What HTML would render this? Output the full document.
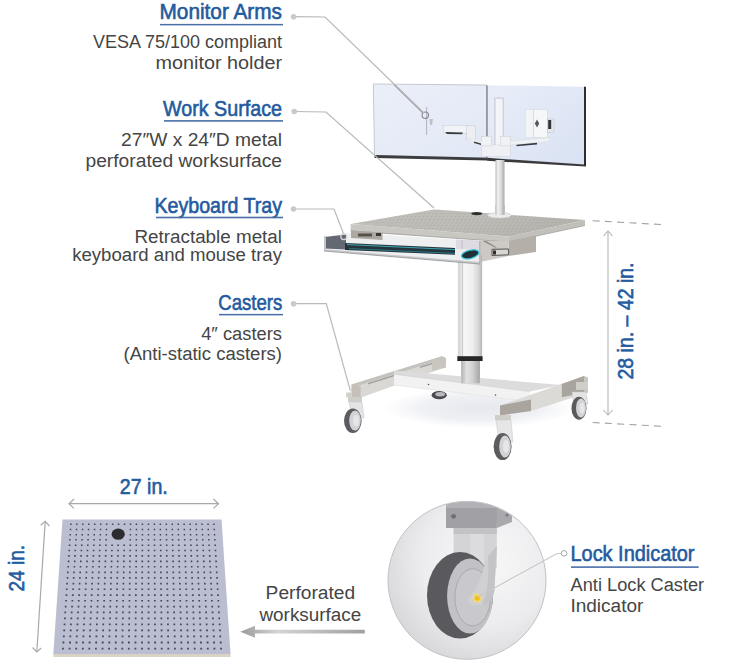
<!DOCTYPE html>
<html><head><meta charset="utf-8">
<style>
html,body{margin:0;padding:0;background:#fff;width:729px;height:669px;overflow:hidden;}
svg{display:block;}
.t{font-family:"Liberation Sans",sans-serif;font-weight:normal;fill:#235a9e;stroke:#235a9e;stroke-width:0.6px;font-size:22px;}
.b{font-family:"Liberation Sans",sans-serif;fill:#454545;font-size:18px;}
.d{font-family:"Liberation Sans",sans-serif;font-weight:normal;fill:#245c9f;stroke:#245c9f;stroke-width:0.6px;font-size:21.3px;}
.ld{stroke:#b9b9b9;stroke-width:1.2;fill:none;}
</style></head>
<body>
<svg width="729" height="669" viewBox="0 0 729 669">
<defs>
  <linearGradient id="scrL" x1="0" y1="0" x2="1" y2="1">
    <stop offset="0" stop-color="#ebeff9"/>
    <stop offset="1" stop-color="#e1e8f5"/>
  </linearGradient>
  <linearGradient id="scrR" x1="0" y1="0" x2="1" y2="1">
    <stop offset="0" stop-color="#e8edf8"/>
    <stop offset="1" stop-color="#d9e2f3"/>
  </linearGradient>
  <linearGradient id="col" x1="0" y1="0" x2="1" y2="0">
    <stop offset="0" stop-color="#b9b9b9"/>
    <stop offset="0.25" stop-color="#f2f2f2"/>
    <stop offset="0.6" stop-color="#dcdcdc"/>
    <stop offset="1" stop-color="#a9a9a9"/>
  </linearGradient>
  <linearGradient id="arrowg" x1="0" y1="0" x2="1" y2="0">
    <stop offset="0" stop-color="#9a9a9a"/>
    <stop offset="0.3" stop-color="#d4d4d4"/>
    <stop offset="1" stop-color="#a0a0a0"/>
  </linearGradient>
  <radialGradient id="circ" cx="0.62" cy="0.38" r="0.75">
    <stop offset="0" stop-color="#f8f8f9"/>
    <stop offset="0.55" stop-color="#ececee"/>
    <stop offset="1" stop-color="#d2d2d6"/>
  </radialGradient>
  <radialGradient id="shadow" cx="0.5" cy="0.5" r="0.5">
    <stop offset="0" stop-color="#e6e8ee"/>
    <stop offset="0.6" stop-color="#eff0f4"/>
    <stop offset="1" stop-color="#ffffff"/>
  </radialGradient>
  <linearGradient id="wsg" x1="0" y1="0" x2="1" y2="0.3">
    <stop offset="0" stop-color="#c0beb9"/>
    <stop offset="0.6" stop-color="#bcbab5"/>
    <stop offset="1" stop-color="#b3b1ac"/>
  </linearGradient>
  <linearGradient id="colU" x1="0" y1="0" x2="1" y2="0">
    <stop offset="0" stop-color="#d2d2d2"/>
    <stop offset="0.17" stop-color="#e6e6e6"/>
    <stop offset="0.25" stop-color="#f6f6f6"/>
    <stop offset="0.6" stop-color="#efefef"/>
    <stop offset="0.85" stop-color="#d6d6d6"/>
    <stop offset="1" stop-color="#b4b4b4"/>
  </linearGradient>
  <linearGradient id="colL" x1="0" y1="0" x2="1" y2="0">
    <stop offset="0" stop-color="#b4b4b4"/>
    <stop offset="0.3" stop-color="#e2e2e2"/>
    <stop offset="0.6" stop-color="#d2d2d2"/>
    <stop offset="1" stop-color="#a6a6a6"/>
  </linearGradient>
  <pattern id="wstex" x="0" y="0" width="4" height="3" patternUnits="userSpaceOnUse" patternTransform="skewX(-30)">
    <rect x="0" y="0" width="1.2" height="1" fill="#a3a19c"/>
    <rect x="2" y="1.5" width="1.2" height="1" fill="#cfcdc8"/>
  </pattern>
  <clipPath id="cclip"><circle cx="467" cy="580.3" r="78.5"/></clipPath>
</defs>

<!-- ============ LEFT TEXT LABELS ============ -->
<text class="t" x="282" y="18.9" text-anchor="end" textLength="122.5" lengthAdjust="spacingAndGlyphs">Monitor Arms</text>
<rect x="160" y="23.9" width="123" height="1.5" fill="#4a6ea8"/>
<text class="b" x="282" y="48.3" text-anchor="end" textLength="189" lengthAdjust="spacingAndGlyphs">VESA 75/100 compliant</text>
<text class="b" x="282" y="68.9" text-anchor="end" textLength="126.5" lengthAdjust="spacingAndGlyphs">monitor holder</text>

<text class="t" x="282" y="115.9" text-anchor="end" textLength="119.0" lengthAdjust="spacingAndGlyphs">Work Surface</text>
<rect x="164" y="120.1" width="119" height="1.6" fill="#4a6ea8"/>
<text class="b" x="282" y="146" text-anchor="end" textLength="160.9" lengthAdjust="spacingAndGlyphs">27″W x 24″D metal</text>
<text class="b" x="282" y="166.7" text-anchor="end" textLength="196.5" lengthAdjust="spacingAndGlyphs">perforated worksurface</text>

<text class="t" x="282" y="212.8" text-anchor="end" textLength="127.5" lengthAdjust="spacingAndGlyphs">Keyboard Tray</text>
<rect x="156" y="216.7" width="127" height="1.6" fill="#4a6ea8"/>
<text class="b" x="282" y="242.6" text-anchor="end" textLength="147.5" lengthAdjust="spacingAndGlyphs">Retractable metal</text>
<text class="b" x="282" y="261" text-anchor="end" textLength="209.8" lengthAdjust="spacingAndGlyphs">keyboard and mouse tray</text>

<text class="t" x="282.3" y="309.6" text-anchor="end" textLength="64.1" lengthAdjust="spacingAndGlyphs">Casters</text>
<rect x="219" y="313.9" width="64" height="1.5" fill="#4a6ea8"/>
<text class="b" x="282" y="339.8" text-anchor="end" textLength="80.8" lengthAdjust="spacingAndGlyphs">4″ casters</text>
<text class="b" x="282" y="360.4" text-anchor="end" textLength="158.5" lengthAdjust="spacingAndGlyphs">(Anti-static casters)</text>

<!-- ============ CART ============ -->
<!-- floor shadow -->
<ellipse cx="480" cy="408" rx="95" ry="20" fill="url(#shadow)"/>
<!-- monitors -->
<polygon points="373.3,84 487,85 487,158 374.5,155.5" fill="url(#scrL)" stroke="#b8bcc6" stroke-width="0.8"/>
<polygon points="487,85.3 584.5,86.8 584.5,165 487,158.3" fill="url(#scrR)"/>
<polygon points="374.5,155 487,157.8 487,160.5 374.5,158" fill="#3c3c3e"/>
<polygon points="487,157.8 584.5,164.6 585.5,166.5 487,160.8" fill="#3a3a3c"/>
<polygon points="584,86.6 586,87 586,166.4 584,165.8" fill="#2e2e30"/>
<line x1="487" y1="85.5" x2="487" y2="159" stroke="#5a5a5e" stroke-width="1"/>
<!-- pole on monitors -->
<rect x="494.2" y="97.7" width="9.8" height="48" fill="#f3f4f7"/>
<rect x="494.2" y="97.7" width="1.3" height="48" fill="#c9ccd5"/>
<rect x="502.6" y="97.7" width="1.4" height="48" fill="#cfd2db"/>
<ellipse cx="499.1" cy="98" rx="4.9" ry="1" fill="#d6d9e0"/>
<!-- hub -->
<rect x="481.7" y="145" width="28.5" height="11.5" fill="#eef0f4" stroke="#d0d3da" stroke-width="0.5"/>
<rect x="481.7" y="136.4" width="9.8" height="9.5" fill="#f1f2f5" stroke="#c8cbd3" stroke-width="0.5"/>
<rect x="500.4" y="136.4" width="9.8" height="9.5" fill="#f1f2f5" stroke="#c8cbd3" stroke-width="0.5"/>
<!-- left arm -->
<rect x="443.4" y="125.3" width="24" height="8" fill="#f2f3f6" stroke="#c9ccd4" stroke-width="0.5"/>
<polygon points="445,132 463,132.5 462,134.3 447,134" fill="#3a3b40"/>
<rect x="466.6" y="125.3" width="8.9" height="14.3" fill="#eceef2" stroke="#c5c8d0" stroke-width="0.5"/>
<polygon points="468,137 482,141 482,145.5 468,141" fill="#e9ebf0"/>
<polygon points="474,141.5 481,143.5 481,145 474,143" fill="#3a3b40"/>
<!-- left vesa -->
<line x1="426.6" y1="107" x2="426.6" y2="135" stroke="#9ea1a9" stroke-width="0.8"/>
<polygon points="429.5,119 433,119 432,125 430,125" fill="#c0c2c8"/>
<!-- right arm -->
<polygon points="510,141 549.5,137.5 549.5,141.5 510,145" fill="#eff1f4" stroke="#cfd2d9" stroke-width="0.4"/>
<polygon points="516.5,144.8 537,142.8 537,144.4 516.5,146.3" fill="#3a3b40"/>
<rect x="525.3" y="109.3" width="8.2" height="28.5" fill="#f3f4f7" stroke="#d3d6dd" stroke-width="0.4"/>
<rect x="533.4" y="109.3" width="14.3" height="28.5" fill="#f6f7f9" stroke="#c9ccd3" stroke-width="0.5"/>
<polygon points="537,119.5 539.2,123.5 537,127.5 534.8,123.5" fill="#55575e"/>
<rect x="547.7" y="119" width="6.3" height="13.4" fill="#e4e6ea" stroke="#b7bac1" stroke-width="0.4"/>
<rect x="548.2" y="120" width="3" height="9" fill="#33343a"/>
<!-- pole below monitors -->
<rect x="495.5" y="160" width="9" height="52" fill="url(#col)"/>


<!-- worksurface -->
<polygon points="350.6,224 434,209.6 585,220 509,236.5" fill="url(#wsg)"/>
<polygon points="350.6,224 434,209.6 585,220 509,236.5" fill="url(#wstex)" opacity="0.5"/>
<polygon points="350.6,224 509,236.5 509,242 350.6,231" fill="#c9c7c2"/>
<polygon points="509,236.5 585,220 585,225.5 509,242" fill="#c2c0bb"/>
<line x1="350.6" y1="231" x2="509" y2="242" stroke="#9c9a95" stroke-width="0.8"/>
<line x1="509" y1="242" x2="585" y2="225.5" stroke="#a5a39e" stroke-width="0.8"/>
<ellipse cx="476.8" cy="213.6" rx="5.5" ry="1.7" fill="#2e2e2e"/>
<ellipse cx="499.5" cy="215.3" rx="12" ry="2.8" fill="#ececec" stroke="#c8c8c8" stroke-width="0.6"/>
<rect x="495.5" y="205" width="9" height="10" fill="url(#col)"/>
<!-- slide box right -->
<polygon points="508.6,241 536,235.6 536,252 508.6,256" fill="#b4b0a9"/>
<polygon points="480,241 508.6,241 508.6,256 480,262" fill="#cdcac5"/>
<polygon points="482.5,241 486,241 497,247.5 494.9,247.5" fill="#8d8a85"/>
<polygon points="492,249.3 508.6,249 508.6,254.8 492,255.5" fill="#d8d6d2" stroke="#55524e" stroke-width="1"/>
<rect x="493" y="250.5" width="3" height="4" fill="#2e2c2a"/>
<!-- column -->
<rect x="457.9" y="255" width="24.2" height="101.5" fill="url(#colU)"/>
<rect x="462.2" y="255" width="0.8" height="101.5" fill="#c4c4c4"/>
<rect x="457.3" y="356.2" width="25.3" height="4.8" fill="#262626"/>
<rect x="461.3" y="361" width="18.5" height="22.3" fill="url(#colL)"/>
<!-- keyboard tray -->

<polygon points="324,236.7 350,233 480,241 480,262 324,249" fill="#eeeff1"/>
<polygon points="456,239.5 480,240.5 480,250 456,249" fill="#dedbe3"/>
<line x1="462" y1="240" x2="462" y2="249" stroke="#b9b6bf" stroke-width="0.8"/>
<polygon points="325,237 346,234.5 346,249.5 325,248.5" fill="#646873"/>
<polygon points="345,243 455,248 455,254.8 345,250" fill="#26343b"/>
<polyline points="347,244.6 455,249.6" stroke="#3fa7b4" stroke-width="1" fill="none"/>
<polyline points="349,248.6 455,253.4" stroke="#2f8896" stroke-width="0.8" fill="none"/>
<polygon points="324,236 326,236 326,249 324,249" fill="#c5c5c8"/>
<polygon points="324,249 480,262 480,264 324,251" fill="#c9cacc"/>
<polyline points="324,251 480,264" stroke="#8f9094" stroke-width="0.8" fill="none"/>
<line x1="479.8" y1="241" x2="479.8" y2="263" stroke="#a9a8a6" stroke-width="1"/>
<!-- mouse -->
<ellipse cx="470.2" cy="254.3" rx="8.8" ry="4.1" fill="#1f3038" stroke="#39bfd0" stroke-width="1.3" transform="rotate(-14 470.2 254.3)"/>
<!-- left slide -->
<polygon points="351,230.5 382.5,232.5 382.5,240 351,238" fill="#aca8a0"/>
<rect x="358" y="233.5" width="14" height="3" fill="#55524e"/>
<rect x="376" y="233" width="5" height="3" fill="#3a3836"/>

<!-- base -->
<!-- back-left caster -->
<ellipse cx="439.2" cy="395.2" rx="7.6" ry="4.1" fill="#4c4c50"/>
<ellipse cx="440.2" cy="394.2" rx="4.8" ry="2.2" fill="#b9b9bd"/>
<!-- left rail -->
<polygon points="351.5,384.6 442,356.3 446,358 446,367 360.6,397.7 351.5,397.7" fill="#dad8d4"/>
<polygon points="351.5,384.6 442,356.3 446,358 355.5,386.5" fill="#c4c2be"/>
<polygon points="368,383 395,374.5 395,376 368,384.5" fill="#a3a19d"/>
<polygon points="420,366.5 440,360.5 440,362 420,368" fill="#a3a19d"/>
<polygon points="351.5,384.6 360.6,386 360.6,397.7 351.5,397.7" fill="#c4c0b9"/>
<rect x="346.2" y="392.5" width="5" height="5" fill="#d2d0cc"/>
<polygon points="432,359.5 446,358 446,367.5 432,371" fill="#c9c6c0"/>
<!-- cross beam -->
<polygon points="394,370.5 561,385 530,391.5 394,374.2" fill="#dcdcdc"/>
<polygon points="394,374.2 530,391.5 530,401.5 394,385" fill="#f2f2f2"/>
<line x1="394" y1="374.2" x2="530" y2="391.5" stroke="#d0d0d0" stroke-width="0.7"/>
<line x1="394" y1="385" x2="530" y2="401.5" stroke="#e2e2e2" stroke-width="0.7"/>
<circle cx="428.5" cy="384.5" r="0.8" fill="#555"/>
<circle cx="495.5" cy="395" r="0.8" fill="#555"/>
<!-- right rail -->
<polygon points="500,405.5 584,376 588,378 588,392.8 531,411 500,415.5" fill="#dcdad6"/>
<polygon points="500,405.5 531,399.5 531,411 500,415.5" fill="#a9a59e"/>
<polygon points="561.8,384 584,376 584,392.8 561.8,397.2" fill="#a9a59e"/>
<polygon points="584,376 588,377.5 588,392.8 584,392.8" fill="#c8c6c1"/>
<!-- column lower (over beam) -->
<rect x="461.3" y="361" width="18.5" height="22.3" fill="url(#colL)"/>
<!-- casters -->
<g>
  <!-- left front -->
  <rect x="348" y="397" width="14" height="5" fill="#d0cec9"/>
  <polygon points="349,402 362,402 364,418 352,418" fill="#e4e4e4" stroke="#c4c4c4" stroke-width="0.5"/>
  <ellipse cx="352.8" cy="420.8" rx="8.8" ry="12.2" fill="#5c5c60"/>
  <ellipse cx="355" cy="420.6" rx="5.8" ry="10" fill="#d3d3d6"/>
  <ellipse cx="356" cy="420.6" rx="3" ry="6" fill="#e6e6e8"/>
  <!-- right front -->
  <rect x="495" y="415" width="16" height="5" fill="#d0cec9"/>
  <polygon points="496,420 511,420 513,442 499,442" fill="#e6e6e6" stroke="#c4c4c4" stroke-width="0.5"/>
  <ellipse cx="502.6" cy="446.6" rx="9" ry="13.5" fill="#5c5c60"/>
  <ellipse cx="505" cy="446.5" rx="5.8" ry="11" fill="#d3d3d6"/>
  <ellipse cx="506" cy="446.5" rx="3" ry="6.5" fill="#e6e6e8"/>
  <!-- right back -->
  <rect x="576" y="382" width="12" height="8" fill="#d0cec9"/>
  <polygon points="572,392 586,392 588,404 574,404" fill="#e4e4e4" stroke="#c4c4c4" stroke-width="0.5"/>
  <ellipse cx="579" cy="408.2" rx="7.5" ry="11.5" fill="#5c5c60"/>
  <ellipse cx="581" cy="408" rx="5" ry="9.5" fill="#d3d3d6"/>
  <ellipse cx="582" cy="408" rx="2.5" ry="5.5" fill="#e6e6e8"/>
</g>

<!-- height dimension -->
<g stroke="#b4b4b4" stroke-width="1.1" fill="none">
  <line x1="592.6" y1="220.7" x2="662" y2="224.6" stroke-dasharray="7,5.3" stroke="#a3a3a3"/>
  <line x1="592.6" y1="422.5" x2="662" y2="426.3" stroke-dasharray="7,5.3" stroke="#a3a3a3"/>
  <line x1="608" y1="231" x2="608" y2="415"/>
  <polyline points="603.5,236 608,231 612.5,236"/>
  <polyline points="603.5,410 608,415 612.5,410"/>
</g>
<text class="d" transform="translate(633,379.5) rotate(-90)" x="0" y="0" textLength="117" lengthAdjust="spacingAndGlyphs">28 in. – 42 in.</text>

<!-- ============ PERFORATED BOARD ============ -->
<g stroke="#a9a9a9" stroke-width="1.2" fill="none">
  <line x1="69" y1="503.7" x2="218.5" y2="503.7"/>
  <polyline points="74,499 69,503.7 74,508.4"/>
  <polyline points="213.5,499 218.5,503.7 213.5,508.4"/>
  <line x1="45.2" y1="521.4" x2="36.8" y2="652"/>
  <polyline points="40.6,525.3 45.2,521.4 49.4,526"/>
  <polyline points="32.6,647.5 36.8,652 41.2,648"/>
</g>
<text class="d" x="119.8" y="494.1" textLength="48" lengthAdjust="spacingAndGlyphs">27 in.</text>
<text class="d" transform="translate(24.2,591.5) rotate(-90)" x="0" y="0" textLength="46.5" lengthAdjust="spacingAndGlyphs">24 in.</text>
<polygon points="62.5,519.5 221.5,519.5 230.5,654 53.3,654" fill="#babed0"/>
<polygon points="53.3,654 230.5,654 230.5,657 53.3,657" fill="#d9d3c4"/>
<!--DOTS--><path d="M70.2 523.5h1.5v1.5h-1.5zM76.1 523.5h1.5v1.5h-1.5zM82.1 523.5h1.5v1.5h-1.5zM88.0 523.5h1.5v1.5h-1.5zM94.0 523.5h1.5v1.5h-1.5zM100.0 523.5h1.5v1.5h-1.5zM105.9 523.5h1.5v1.5h-1.5zM111.9 523.5h1.5v1.5h-1.5zM117.8 523.5h1.5v1.5h-1.5zM123.8 523.5h1.5v1.5h-1.5zM129.8 523.5h1.5v1.5h-1.5zM135.7 523.5h1.5v1.5h-1.5zM141.7 523.5h1.5v1.5h-1.5zM147.7 523.5h1.5v1.5h-1.5zM153.6 523.5h1.5v1.5h-1.5zM159.6 523.5h1.5v1.5h-1.5zM165.6 523.5h1.5v1.5h-1.5zM171.5 523.5h1.5v1.5h-1.5zM177.5 523.5h1.5v1.5h-1.5zM183.4 523.5h1.5v1.5h-1.5zM189.4 523.5h1.5v1.5h-1.5zM195.4 523.5h1.5v1.5h-1.5zM201.3 523.5h1.5v1.5h-1.5zM207.3 523.5h1.5v1.5h-1.5zM213.2 523.5h1.5v1.5h-1.5zM69.8 528.7h1.5v1.5h-1.5zM75.8 528.7h1.5v1.5h-1.5zM81.8 528.7h1.5v1.5h-1.5zM87.8 528.7h1.5v1.5h-1.5zM93.8 528.7h1.5v1.5h-1.5zM99.8 528.7h1.5v1.5h-1.5zM105.7 528.7h1.5v1.5h-1.5zM129.7 528.7h1.5v1.5h-1.5zM135.7 528.7h1.5v1.5h-1.5zM141.7 528.7h1.5v1.5h-1.5zM147.7 528.7h1.5v1.5h-1.5zM153.7 528.7h1.5v1.5h-1.5zM159.6 528.7h1.5v1.5h-1.5zM165.6 528.7h1.5v1.5h-1.5zM171.6 528.7h1.5v1.5h-1.5zM177.6 528.7h1.5v1.5h-1.5zM183.6 528.7h1.5v1.5h-1.5zM189.6 528.7h1.5v1.5h-1.5zM195.6 528.7h1.5v1.5h-1.5zM201.6 528.7h1.5v1.5h-1.5zM207.5 528.7h1.5v1.5h-1.5zM213.5 528.7h1.5v1.5h-1.5zM69.5 533.9h1.5v1.5h-1.5zM75.5 533.9h1.5v1.5h-1.5zM81.5 533.9h1.5v1.5h-1.5zM87.5 533.9h1.5v1.5h-1.5zM93.5 533.9h1.5v1.5h-1.5zM99.6 533.9h1.5v1.5h-1.5zM105.6 533.9h1.5v1.5h-1.5zM129.6 533.9h1.5v1.5h-1.5zM135.6 533.9h1.5v1.5h-1.5zM141.7 533.9h1.5v1.5h-1.5zM147.7 533.9h1.5v1.5h-1.5zM153.7 533.9h1.5v1.5h-1.5zM159.7 533.9h1.5v1.5h-1.5zM165.7 533.9h1.5v1.5h-1.5zM171.7 533.9h1.5v1.5h-1.5zM177.7 533.9h1.5v1.5h-1.5zM183.7 533.9h1.5v1.5h-1.5zM189.8 533.9h1.5v1.5h-1.5zM195.8 533.9h1.5v1.5h-1.5zM201.8 533.9h1.5v1.5h-1.5zM207.8 533.9h1.5v1.5h-1.5zM213.8 533.9h1.5v1.5h-1.5zM69.1 539.1h1.5v1.5h-1.5zM75.2 539.1h1.5v1.5h-1.5zM81.2 539.1h1.5v1.5h-1.5zM87.3 539.1h1.5v1.5h-1.5zM93.3 539.1h1.5v1.5h-1.5zM99.3 539.1h1.5v1.5h-1.5zM105.4 539.1h1.5v1.5h-1.5zM129.5 539.1h1.5v1.5h-1.5zM135.6 539.1h1.5v1.5h-1.5zM141.6 539.1h1.5v1.5h-1.5zM147.7 539.1h1.5v1.5h-1.5zM153.7 539.1h1.5v1.5h-1.5zM159.7 539.1h1.5v1.5h-1.5zM165.8 539.1h1.5v1.5h-1.5zM171.8 539.1h1.5v1.5h-1.5zM177.9 539.1h1.5v1.5h-1.5zM183.9 539.1h1.5v1.5h-1.5zM189.9 539.1h1.5v1.5h-1.5zM196.0 539.1h1.5v1.5h-1.5zM202.0 539.1h1.5v1.5h-1.5zM208.1 539.1h1.5v1.5h-1.5zM214.1 539.1h1.5v1.5h-1.5zM68.8 544.4h1.6v1.6h-1.6zM74.9 544.4h1.6v1.6h-1.6zM80.9 544.4h1.6v1.6h-1.6zM87.0 544.4h1.6v1.6h-1.6zM93.1 544.4h1.6v1.6h-1.6zM99.1 544.4h1.6v1.6h-1.6zM105.2 544.4h1.6v1.6h-1.6zM111.3 544.4h1.6v1.6h-1.6zM117.3 544.4h1.6v1.6h-1.6zM123.4 544.4h1.6v1.6h-1.6zM129.5 544.4h1.6v1.6h-1.6zM135.5 544.4h1.6v1.6h-1.6zM141.6 544.4h1.6v1.6h-1.6zM147.7 544.4h1.6v1.6h-1.6zM153.7 544.4h1.6v1.6h-1.6zM159.8 544.4h1.6v1.6h-1.6zM165.9 544.4h1.6v1.6h-1.6zM171.9 544.4h1.6v1.6h-1.6zM178.0 544.4h1.6v1.6h-1.6zM184.1 544.4h1.6v1.6h-1.6zM190.1 544.4h1.6v1.6h-1.6zM196.2 544.4h1.6v1.6h-1.6zM202.3 544.4h1.6v1.6h-1.6zM208.3 544.4h1.6v1.6h-1.6zM214.4 544.4h1.6v1.6h-1.6zM68.5 549.7h1.6v1.6h-1.6zM74.5 549.7h1.6v1.6h-1.6zM80.6 549.7h1.6v1.6h-1.6zM86.7 549.7h1.6v1.6h-1.6zM92.8 549.7h1.6v1.6h-1.6zM98.9 549.7h1.6v1.6h-1.6zM105.0 549.7h1.6v1.6h-1.6zM111.1 549.7h1.6v1.6h-1.6zM117.2 549.7h1.6v1.6h-1.6zM123.3 549.7h1.6v1.6h-1.6zM129.4 549.7h1.6v1.6h-1.6zM135.5 549.7h1.6v1.6h-1.6zM141.6 549.7h1.6v1.6h-1.6zM147.7 549.7h1.6v1.6h-1.6zM153.8 549.7h1.6v1.6h-1.6zM159.9 549.7h1.6v1.6h-1.6zM165.9 549.7h1.6v1.6h-1.6zM172.0 549.7h1.6v1.6h-1.6zM178.1 549.7h1.6v1.6h-1.6zM184.2 549.7h1.6v1.6h-1.6zM190.3 549.7h1.6v1.6h-1.6zM196.4 549.7h1.6v1.6h-1.6zM202.5 549.7h1.6v1.6h-1.6zM208.6 549.7h1.6v1.6h-1.6zM214.7 549.7h1.6v1.6h-1.6zM68.1 555.1h1.6v1.6h-1.6zM74.2 555.1h1.6v1.6h-1.6zM80.3 555.1h1.6v1.6h-1.6zM86.5 555.1h1.6v1.6h-1.6zM92.6 555.1h1.6v1.6h-1.6zM98.7 555.1h1.6v1.6h-1.6zM104.8 555.1h1.6v1.6h-1.6zM110.9 555.1h1.6v1.6h-1.6zM117.1 555.1h1.6v1.6h-1.6zM123.2 555.1h1.6v1.6h-1.6zM129.3 555.1h1.6v1.6h-1.6zM135.4 555.1h1.6v1.6h-1.6zM141.5 555.1h1.6v1.6h-1.6zM147.7 555.1h1.6v1.6h-1.6zM153.8 555.1h1.6v1.6h-1.6zM159.9 555.1h1.6v1.6h-1.6zM166.0 555.1h1.6v1.6h-1.6zM172.1 555.1h1.6v1.6h-1.6zM178.3 555.1h1.6v1.6h-1.6zM184.4 555.1h1.6v1.6h-1.6zM190.5 555.1h1.6v1.6h-1.6zM196.6 555.1h1.6v1.6h-1.6zM202.8 555.1h1.6v1.6h-1.6zM208.9 555.1h1.6v1.6h-1.6zM215.0 555.1h1.6v1.6h-1.6zM67.8 560.6h1.6v1.6h-1.6zM73.9 560.6h1.6v1.6h-1.6zM80.0 560.6h1.6v1.6h-1.6zM86.2 560.6h1.6v1.6h-1.6zM92.3 560.6h1.6v1.6h-1.6zM98.5 560.6h1.6v1.6h-1.6zM104.6 560.6h1.6v1.6h-1.6zM110.8 560.6h1.6v1.6h-1.6zM116.9 560.6h1.6v1.6h-1.6zM123.1 560.6h1.6v1.6h-1.6zM129.2 560.6h1.6v1.6h-1.6zM135.4 560.6h1.6v1.6h-1.6zM141.5 560.6h1.6v1.6h-1.6zM147.7 560.6h1.6v1.6h-1.6zM153.8 560.6h1.6v1.6h-1.6zM160.0 560.6h1.6v1.6h-1.6zM166.1 560.6h1.6v1.6h-1.6zM172.3 560.6h1.6v1.6h-1.6zM178.4 560.6h1.6v1.6h-1.6zM184.6 560.6h1.6v1.6h-1.6zM190.7 560.6h1.6v1.6h-1.6zM196.8 560.6h1.6v1.6h-1.6zM203.0 560.6h1.6v1.6h-1.6zM209.1 560.6h1.6v1.6h-1.6zM215.3 560.6h1.6v1.6h-1.6zM67.4 566.0h1.6v1.6h-1.6zM73.6 566.0h1.6v1.6h-1.6zM79.7 566.0h1.6v1.6h-1.6zM85.9 566.0h1.6v1.6h-1.6zM92.1 566.0h1.6v1.6h-1.6zM98.3 566.0h1.6v1.6h-1.6zM104.4 566.0h1.6v1.6h-1.6zM110.6 566.0h1.6v1.6h-1.6zM116.8 566.0h1.6v1.6h-1.6zM123.0 566.0h1.6v1.6h-1.6zM129.1 566.0h1.6v1.6h-1.6zM135.3 566.0h1.6v1.6h-1.6zM141.5 566.0h1.6v1.6h-1.6zM147.7 566.0h1.6v1.6h-1.6zM153.8 566.0h1.6v1.6h-1.6zM160.0 566.0h1.6v1.6h-1.6zM166.2 566.0h1.6v1.6h-1.6zM172.4 566.0h1.6v1.6h-1.6zM178.5 566.0h1.6v1.6h-1.6zM184.7 566.0h1.6v1.6h-1.6zM190.9 566.0h1.6v1.6h-1.6zM197.1 566.0h1.6v1.6h-1.6zM203.2 566.0h1.6v1.6h-1.6zM209.4 566.0h1.6v1.6h-1.6zM215.6 566.0h1.6v1.6h-1.6zM67.0 571.6h1.6v1.6h-1.6zM73.2 571.6h1.6v1.6h-1.6zM79.4 571.6h1.6v1.6h-1.6zM85.6 571.6h1.6v1.6h-1.6zM91.8 571.6h1.6v1.6h-1.6zM98.1 571.6h1.6v1.6h-1.6zM104.3 571.6h1.6v1.6h-1.6zM110.5 571.6h1.6v1.6h-1.6zM116.7 571.6h1.6v1.6h-1.6zM122.9 571.6h1.6v1.6h-1.6zM129.1 571.6h1.6v1.6h-1.6zM135.3 571.6h1.6v1.6h-1.6zM141.5 571.6h1.6v1.6h-1.6zM147.7 571.6h1.6v1.6h-1.6zM153.9 571.6h1.6v1.6h-1.6zM160.1 571.6h1.6v1.6h-1.6zM166.3 571.6h1.6v1.6h-1.6zM172.5 571.6h1.6v1.6h-1.6zM178.7 571.6h1.6v1.6h-1.6zM184.9 571.6h1.6v1.6h-1.6zM191.1 571.6h1.6v1.6h-1.6zM197.3 571.6h1.6v1.6h-1.6zM203.5 571.6h1.6v1.6h-1.6zM209.7 571.6h1.6v1.6h-1.6zM215.9 571.6h1.6v1.6h-1.6zM66.7 577.1h1.6v1.6h-1.6zM72.9 577.1h1.6v1.6h-1.6zM79.1 577.1h1.6v1.6h-1.6zM85.4 577.1h1.6v1.6h-1.6zM91.6 577.1h1.6v1.6h-1.6zM97.8 577.1h1.6v1.6h-1.6zM104.1 577.1h1.6v1.6h-1.6zM110.3 577.1h1.6v1.6h-1.6zM116.5 577.1h1.6v1.6h-1.6zM122.8 577.1h1.6v1.6h-1.6zM129.0 577.1h1.6v1.6h-1.6zM135.2 577.1h1.6v1.6h-1.6zM141.4 577.1h1.6v1.6h-1.6zM147.7 577.1h1.6v1.6h-1.6zM153.9 577.1h1.6v1.6h-1.6zM160.1 577.1h1.6v1.6h-1.6zM166.4 577.1h1.6v1.6h-1.6zM172.6 577.1h1.6v1.6h-1.6zM178.8 577.1h1.6v1.6h-1.6zM185.1 577.1h1.6v1.6h-1.6zM191.3 577.1h1.6v1.6h-1.6zM197.5 577.1h1.6v1.6h-1.6zM203.7 577.1h1.6v1.6h-1.6zM210.0 577.1h1.6v1.6h-1.6zM216.2 577.1h1.6v1.6h-1.6zM66.3 582.8h1.6v1.6h-1.6zM72.6 582.8h1.6v1.6h-1.6zM78.8 582.8h1.6v1.6h-1.6zM85.1 582.8h1.6v1.6h-1.6zM91.3 582.8h1.6v1.6h-1.6zM97.6 582.8h1.6v1.6h-1.6zM103.9 582.8h1.6v1.6h-1.6zM110.1 582.8h1.6v1.6h-1.6zM116.4 582.8h1.6v1.6h-1.6zM122.6 582.8h1.6v1.6h-1.6zM128.9 582.8h1.6v1.6h-1.6zM135.2 582.8h1.6v1.6h-1.6zM141.4 582.8h1.6v1.6h-1.6zM147.7 582.8h1.6v1.6h-1.6zM153.9 582.8h1.6v1.6h-1.6zM160.2 582.8h1.6v1.6h-1.6zM166.4 582.8h1.6v1.6h-1.6zM172.7 582.8h1.6v1.6h-1.6zM179.0 582.8h1.6v1.6h-1.6zM185.2 582.8h1.6v1.6h-1.6zM191.5 582.8h1.6v1.6h-1.6zM197.7 582.8h1.6v1.6h-1.6zM204.0 582.8h1.6v1.6h-1.6zM210.3 582.8h1.6v1.6h-1.6zM216.5 582.8h1.6v1.6h-1.6zM65.9 588.4h1.7v1.7h-1.7zM72.2 588.4h1.7v1.7h-1.7zM78.5 588.4h1.7v1.7h-1.7zM84.8 588.4h1.7v1.7h-1.7zM91.1 588.4h1.7v1.7h-1.7zM97.4 588.4h1.7v1.7h-1.7zM103.7 588.4h1.7v1.7h-1.7zM110.0 588.4h1.7v1.7h-1.7zM116.2 588.4h1.7v1.7h-1.7zM122.5 588.4h1.7v1.7h-1.7zM128.8 588.4h1.7v1.7h-1.7zM135.1 588.4h1.7v1.7h-1.7zM141.4 588.4h1.7v1.7h-1.7zM147.7 588.4h1.7v1.7h-1.7zM154.0 588.4h1.7v1.7h-1.7zM160.2 588.4h1.7v1.7h-1.7zM166.5 588.4h1.7v1.7h-1.7zM172.8 588.4h1.7v1.7h-1.7zM179.1 588.4h1.7v1.7h-1.7zM185.4 588.4h1.7v1.7h-1.7zM191.7 588.4h1.7v1.7h-1.7zM198.0 588.4h1.7v1.7h-1.7zM204.3 588.4h1.7v1.7h-1.7zM210.5 588.4h1.7v1.7h-1.7zM216.8 588.4h1.7v1.7h-1.7zM65.6 594.2h1.7v1.7h-1.7zM71.9 594.2h1.7v1.7h-1.7zM78.2 594.2h1.7v1.7h-1.7zM84.5 594.2h1.7v1.7h-1.7zM90.8 594.2h1.7v1.7h-1.7zM97.2 594.2h1.7v1.7h-1.7zM103.5 594.2h1.7v1.7h-1.7zM109.8 594.2h1.7v1.7h-1.7zM116.1 594.2h1.7v1.7h-1.7zM122.4 594.2h1.7v1.7h-1.7zM128.7 594.2h1.7v1.7h-1.7zM135.0 594.2h1.7v1.7h-1.7zM141.4 594.2h1.7v1.7h-1.7zM147.7 594.2h1.7v1.7h-1.7zM154.0 594.2h1.7v1.7h-1.7zM160.3 594.2h1.7v1.7h-1.7zM166.6 594.2h1.7v1.7h-1.7zM172.9 594.2h1.7v1.7h-1.7zM179.3 594.2h1.7v1.7h-1.7zM185.6 594.2h1.7v1.7h-1.7zM191.9 594.2h1.7v1.7h-1.7zM198.2 594.2h1.7v1.7h-1.7zM204.5 594.2h1.7v1.7h-1.7zM210.8 594.2h1.7v1.7h-1.7zM217.1 594.2h1.7v1.7h-1.7zM65.2 599.9h1.7v1.7h-1.7zM71.5 599.9h1.7v1.7h-1.7zM77.9 599.9h1.7v1.7h-1.7zM84.2 599.9h1.7v1.7h-1.7zM90.6 599.9h1.7v1.7h-1.7zM96.9 599.9h1.7v1.7h-1.7zM103.3 599.9h1.7v1.7h-1.7zM109.6 599.9h1.7v1.7h-1.7zM116.0 599.9h1.7v1.7h-1.7zM122.3 599.9h1.7v1.7h-1.7zM128.6 599.9h1.7v1.7h-1.7zM135.0 599.9h1.7v1.7h-1.7zM141.3 599.9h1.7v1.7h-1.7zM147.7 599.9h1.7v1.7h-1.7zM154.0 599.9h1.7v1.7h-1.7zM160.4 599.9h1.7v1.7h-1.7zM166.7 599.9h1.7v1.7h-1.7zM173.1 599.9h1.7v1.7h-1.7zM179.4 599.9h1.7v1.7h-1.7zM185.7 599.9h1.7v1.7h-1.7zM192.1 599.9h1.7v1.7h-1.7zM198.4 599.9h1.7v1.7h-1.7zM204.8 599.9h1.7v1.7h-1.7zM211.1 599.9h1.7v1.7h-1.7zM217.5 599.9h1.7v1.7h-1.7zM64.8 605.7h1.7v1.7h-1.7zM71.2 605.7h1.7v1.7h-1.7zM77.6 605.7h1.7v1.7h-1.7zM83.9 605.7h1.7v1.7h-1.7zM90.3 605.7h1.7v1.7h-1.7zM96.7 605.7h1.7v1.7h-1.7zM103.1 605.7h1.7v1.7h-1.7zM109.4 605.7h1.7v1.7h-1.7zM115.8 605.7h1.7v1.7h-1.7zM122.2 605.7h1.7v1.7h-1.7zM128.6 605.7h1.7v1.7h-1.7zM134.9 605.7h1.7v1.7h-1.7zM141.3 605.7h1.7v1.7h-1.7zM147.7 605.7h1.7v1.7h-1.7zM154.0 605.7h1.7v1.7h-1.7zM160.4 605.7h1.7v1.7h-1.7zM166.8 605.7h1.7v1.7h-1.7zM173.2 605.7h1.7v1.7h-1.7zM179.5 605.7h1.7v1.7h-1.7zM185.9 605.7h1.7v1.7h-1.7zM192.3 605.7h1.7v1.7h-1.7zM198.7 605.7h1.7v1.7h-1.7zM205.0 605.7h1.7v1.7h-1.7zM211.4 605.7h1.7v1.7h-1.7zM217.8 605.7h1.7v1.7h-1.7zM64.4 611.6h1.7v1.7h-1.7zM70.8 611.6h1.7v1.7h-1.7zM77.2 611.6h1.7v1.7h-1.7zM83.7 611.6h1.7v1.7h-1.7zM90.1 611.6h1.7v1.7h-1.7zM96.5 611.6h1.7v1.7h-1.7zM102.9 611.6h1.7v1.7h-1.7zM109.3 611.6h1.7v1.7h-1.7zM115.7 611.6h1.7v1.7h-1.7zM122.1 611.6h1.7v1.7h-1.7zM128.5 611.6h1.7v1.7h-1.7zM134.9 611.6h1.7v1.7h-1.7zM141.3 611.6h1.7v1.7h-1.7zM147.7 611.6h1.7v1.7h-1.7zM154.1 611.6h1.7v1.7h-1.7zM160.5 611.6h1.7v1.7h-1.7zM166.9 611.6h1.7v1.7h-1.7zM173.3 611.6h1.7v1.7h-1.7zM179.7 611.6h1.7v1.7h-1.7zM186.1 611.6h1.7v1.7h-1.7zM192.5 611.6h1.7v1.7h-1.7zM198.9 611.6h1.7v1.7h-1.7zM205.3 611.6h1.7v1.7h-1.7zM211.7 611.6h1.7v1.7h-1.7zM218.1 611.6h1.7v1.7h-1.7zM64.1 617.5h1.7v1.7h-1.7zM70.5 617.5h1.7v1.7h-1.7zM76.9 617.5h1.7v1.7h-1.7zM83.4 617.5h1.7v1.7h-1.7zM89.8 617.5h1.7v1.7h-1.7zM96.2 617.5h1.7v1.7h-1.7zM102.7 617.5h1.7v1.7h-1.7zM109.1 617.5h1.7v1.7h-1.7zM115.5 617.5h1.7v1.7h-1.7zM122.0 617.5h1.7v1.7h-1.7zM128.4 617.5h1.7v1.7h-1.7zM134.8 617.5h1.7v1.7h-1.7zM141.2 617.5h1.7v1.7h-1.7zM147.7 617.5h1.7v1.7h-1.7zM154.1 617.5h1.7v1.7h-1.7zM160.5 617.5h1.7v1.7h-1.7zM167.0 617.5h1.7v1.7h-1.7zM173.4 617.5h1.7v1.7h-1.7zM179.8 617.5h1.7v1.7h-1.7zM186.3 617.5h1.7v1.7h-1.7zM192.7 617.5h1.7v1.7h-1.7zM199.1 617.5h1.7v1.7h-1.7zM205.6 617.5h1.7v1.7h-1.7zM212.0 617.5h1.7v1.7h-1.7zM218.4 617.5h1.7v1.7h-1.7zM63.7 623.5h1.7v1.7h-1.7zM70.1 623.5h1.7v1.7h-1.7zM76.6 623.5h1.7v1.7h-1.7zM83.1 623.5h1.7v1.7h-1.7zM89.5 623.5h1.7v1.7h-1.7zM96.0 623.5h1.7v1.7h-1.7zM102.4 623.5h1.7v1.7h-1.7zM108.9 623.5h1.7v1.7h-1.7zM115.4 623.5h1.7v1.7h-1.7zM121.8 623.5h1.7v1.7h-1.7zM128.3 623.5h1.7v1.7h-1.7zM134.8 623.5h1.7v1.7h-1.7zM141.2 623.5h1.7v1.7h-1.7zM147.7 623.5h1.7v1.7h-1.7zM154.1 623.5h1.7v1.7h-1.7zM160.6 623.5h1.7v1.7h-1.7zM167.1 623.5h1.7v1.7h-1.7zM173.5 623.5h1.7v1.7h-1.7zM180.0 623.5h1.7v1.7h-1.7zM186.5 623.5h1.7v1.7h-1.7zM192.9 623.5h1.7v1.7h-1.7zM199.4 623.5h1.7v1.7h-1.7zM205.8 623.5h1.7v1.7h-1.7zM212.3 623.5h1.7v1.7h-1.7zM218.8 623.5h1.7v1.7h-1.7zM63.3 629.5h1.8v1.8h-1.8zM69.8 629.5h1.8v1.8h-1.8zM76.3 629.5h1.8v1.8h-1.8zM82.8 629.5h1.8v1.8h-1.8zM89.3 629.5h1.8v1.8h-1.8zM95.7 629.5h1.8v1.8h-1.8zM102.2 629.5h1.8v1.8h-1.8zM108.7 629.5h1.8v1.8h-1.8zM115.2 629.5h1.8v1.8h-1.8zM121.7 629.5h1.8v1.8h-1.8zM128.2 629.5h1.8v1.8h-1.8zM134.7 629.5h1.8v1.8h-1.8zM141.2 629.5h1.8v1.8h-1.8zM147.7 629.5h1.8v1.8h-1.8zM154.2 629.5h1.8v1.8h-1.8zM160.7 629.5h1.8v1.8h-1.8zM167.2 629.5h1.8v1.8h-1.8zM173.6 629.5h1.8v1.8h-1.8zM180.1 629.5h1.8v1.8h-1.8zM186.6 629.5h1.8v1.8h-1.8zM193.1 629.5h1.8v1.8h-1.8zM199.6 629.5h1.8v1.8h-1.8zM206.1 629.5h1.8v1.8h-1.8zM212.6 629.5h1.8v1.8h-1.8zM219.1 629.5h1.8v1.8h-1.8zM62.9 635.5h1.8v1.8h-1.8zM69.4 635.5h1.8v1.8h-1.8zM75.9 635.5h1.8v1.8h-1.8zM82.5 635.5h1.8v1.8h-1.8zM89.0 635.5h1.8v1.8h-1.8zM95.5 635.5h1.8v1.8h-1.8zM102.0 635.5h1.8v1.8h-1.8zM108.5 635.5h1.8v1.8h-1.8zM115.1 635.5h1.8v1.8h-1.8zM121.6 635.5h1.8v1.8h-1.8zM128.1 635.5h1.8v1.8h-1.8zM134.6 635.5h1.8v1.8h-1.8zM141.2 635.5h1.8v1.8h-1.8zM147.7 635.5h1.8v1.8h-1.8zM154.2 635.5h1.8v1.8h-1.8zM160.7 635.5h1.8v1.8h-1.8zM167.2 635.5h1.8v1.8h-1.8zM173.8 635.5h1.8v1.8h-1.8zM180.3 635.5h1.8v1.8h-1.8zM186.8 635.5h1.8v1.8h-1.8zM193.3 635.5h1.8v1.8h-1.8zM199.9 635.5h1.8v1.8h-1.8zM206.4 635.5h1.8v1.8h-1.8zM212.9 635.5h1.8v1.8h-1.8zM219.4 635.5h1.8v1.8h-1.8zM62.5 641.6h1.8v1.8h-1.8zM69.1 641.6h1.8v1.8h-1.8zM75.6 641.6h1.8v1.8h-1.8zM82.2 641.6h1.8v1.8h-1.8zM88.7 641.6h1.8v1.8h-1.8zM95.3 641.6h1.8v1.8h-1.8zM101.8 641.6h1.8v1.8h-1.8zM108.4 641.6h1.8v1.8h-1.8zM114.9 641.6h1.8v1.8h-1.8zM121.5 641.6h1.8v1.8h-1.8zM128.0 641.6h1.8v1.8h-1.8zM134.6 641.6h1.8v1.8h-1.8zM141.1 641.6h1.8v1.8h-1.8zM147.7 641.6h1.8v1.8h-1.8zM154.2 641.6h1.8v1.8h-1.8zM160.8 641.6h1.8v1.8h-1.8zM167.3 641.6h1.8v1.8h-1.8zM173.9 641.6h1.8v1.8h-1.8zM180.4 641.6h1.8v1.8h-1.8zM187.0 641.6h1.8v1.8h-1.8zM193.6 641.6h1.8v1.8h-1.8zM200.1 641.6h1.8v1.8h-1.8zM206.7 641.6h1.8v1.8h-1.8zM213.2 641.6h1.8v1.8h-1.8zM219.8 641.6h1.8v1.8h-1.8zM62.1 647.8h1.8v1.8h-1.8zM68.7 647.8h1.8v1.8h-1.8zM75.3 647.8h1.8v1.8h-1.8zM81.9 647.8h1.8v1.8h-1.8zM88.4 647.8h1.8v1.8h-1.8zM95.0 647.8h1.8v1.8h-1.8zM101.6 647.8h1.8v1.8h-1.8zM108.2 647.8h1.8v1.8h-1.8zM114.8 647.8h1.8v1.8h-1.8zM121.4 647.8h1.8v1.8h-1.8zM127.9 647.8h1.8v1.8h-1.8zM134.5 647.8h1.8v1.8h-1.8zM141.1 647.8h1.8v1.8h-1.8zM147.7 647.8h1.8v1.8h-1.8zM154.3 647.8h1.8v1.8h-1.8zM160.8 647.8h1.8v1.8h-1.8zM167.4 647.8h1.8v1.8h-1.8zM174.0 647.8h1.8v1.8h-1.8zM180.6 647.8h1.8v1.8h-1.8zM187.2 647.8h1.8v1.8h-1.8zM193.8 647.8h1.8v1.8h-1.8zM200.3 647.8h1.8v1.8h-1.8zM206.9 647.8h1.8v1.8h-1.8zM213.5 647.8h1.8v1.8h-1.8zM220.1 647.8h1.8v1.8h-1.8z" fill="#464858"/><!--/DOTS-->
<ellipse cx="118.2" cy="534.2" rx="6.6" ry="5.6" fill="#2c2c30"/>

<!-- Perforated worksurface label + arrow -->
<text class="b" x="265.6" y="599.4" textLength="89.5" lengthAdjust="spacingAndGlyphs">Perforated</text>
<text class="b" x="259.5" y="621" textLength="101.7" lengthAdjust="spacingAndGlyphs">worksurface</text>
<polygon points="240.3,631.7 255,625.7 255,629.8 364.8,629.8 364.8,633.6 255,633.6 255,637.7" fill="url(#arrowg)"/>

<!-- ============ CASTER CLOSE-UP ============ -->
<circle cx="467" cy="580.3" r="79" fill="url(#circ)"/>
<g clip-path="url(#cclip)">
  <!-- top bracket -->
  <polygon points="494,505 512,512 512,522 496.8,528" fill="#a9a9ad"/>
  <rect x="446" y="496" width="50.8" height="32" fill="#a1a1a5"/>
  <rect x="446" y="496" width="50.8" height="12" fill="#b2b2b6"/>
  <circle cx="453.6" cy="516.3" r="2.4" fill="#707074"/>
  <circle cx="507" cy="515" r="1.6" fill="#7a7a7e"/>
  <!-- neck -->
  <rect x="453.6" y="528" width="43.2" height="40" fill="#d4d4d7"/>
  <rect x="453.6" y="528" width="43.2" height="6" fill="#c3c3c6"/>
  <rect x="470" y="534" width="14" height="30" fill="#dcdcdf"/>
  <!-- tire -->
  <ellipse cx="460" cy="595.3" rx="33" ry="43.3" fill="#5a5a5e"/>
  <ellipse cx="470" cy="596" rx="22.9" ry="37.5" fill="#c2c2c6"/>
  <ellipse cx="472.7" cy="597.3" rx="17.8" ry="28.6" fill="#c9c9cd" stroke="#a9a9ad" stroke-width="1"/>
  <!-- fork leg -->
  <path d="M485.4,561 L496.8,546 L494.3,591.6 Q492,602 485.4,604.3 L472,605.5 Q466,603 468.9,598 Q482,582 485.4,561 Z" fill="#d0d0d3"/>
  <path d="M488,556 L496.8,546 L494.3,591.6 Q492,602 485.4,604.3 L482,604.5 Q490,590 488,556 Z" fill="#c4c4c7"/>
  <circle cx="477.2" cy="598.1" r="4.6" fill="#f3d77a"/>
  <circle cx="477.2" cy="598.1" r="2.6" fill="#f0bf10"/>
</g>
<circle cx="467" cy="580.3" r="79" fill="none" stroke="#c2c2c6" stroke-width="1"/>
<polyline points="477,597.5 557,553.5 561.3,553.5" stroke="#c8c8c8" stroke-width="1.1" fill="none"/>
<circle cx="564.1" cy="553.3" r="2.8" fill="#fff" stroke="#a5a5a5" stroke-width="1"/>
<text class="t" x="570.5" y="560.9" textLength="124" lengthAdjust="spacingAndGlyphs">Lock Indicator</text>
<rect x="571" y="566.3" width="127.7" height="1.6" fill="#4a6ea8"/>
<text class="b" x="570.6" y="591" textLength="133.6" lengthAdjust="spacingAndGlyphs">Anti Lock Caster</text>
<text class="b" x="570.4" y="611.7" textLength="73" lengthAdjust="spacingAndGlyphs">Indicator</text>

<!-- leader lines -->
<line x1="394" y1="84.5" x2="422.8" y2="112.8" stroke="#85868c" stroke-width="1.1"/>
<circle cx="425.3" cy="115.2" r="3.2" fill="none" stroke="#85868c" stroke-width="1.1"/>
<circle cx="343.8" cy="236.6" r="3" fill="none" stroke="#d8d8d8" stroke-width="1.2"/>
<g class="ld">
  <polyline points="293.6,16.7 325,17 424,113"/>
  <polyline points="294,111.5 326,112 434,208"/>
  <polyline points="293.5,209 334,209 343.5,233.5"/>
  <polyline points="293.6,303.7 326.3,303.7 350.4,390.8"/>
</g>
<g fill="#c9c9c9">
  <circle cx="293.6" cy="16.7" r="2.8"/>
  <circle cx="294.2" cy="111.5" r="2.8"/>
  <circle cx="293.5" cy="209" r="2.8"/>
  <circle cx="293.6" cy="303.7" r="2.8"/>
</g>

</svg>
</body></html>
